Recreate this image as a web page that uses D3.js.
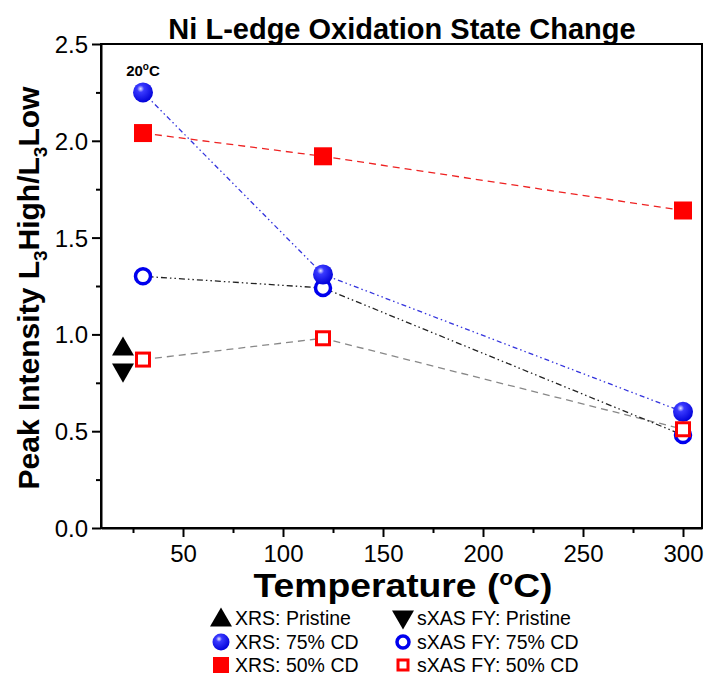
<!DOCTYPE html>
<html><head><meta charset="utf-8">
<script src="https://cdn.jsdelivr.net/npm/d3@7"></script>
<style>body{margin:0;background:#fff}svg{font-family:"Liberation Sans",Arial,sans-serif}</style>
</head><body><svg id="c" width="706" height="679"></svg>
<script>
const temps = [30, 120, 300];
const xrs75 = [2.25, 1.31, 0.60];
const sxas75 = [1.30, 1.24, 0.48];
const xrs50 = [2.04, 1.92, 1.64];
const sxas50 = [0.87, 0.98, 0.51];
const pristineT = 20;
const xrsPristine = 0.94;
const sxasPristine = 0.80;
const xTicks = [50, 100, 150, 200, 250, 300];
const yTicks = [0.0, 0.5, 1.0, 1.5, 2.0, 2.5];

const svg = d3.select("#c");
const L = 101, R = 702, T = 44, B = 528;
const x = d3.scaleLinear().domain([9, 309.5]).range([L, R]);
const y = d3.scaleLinear().domain([0, 2.5]).range([B, T]);

const defs = svg.append("defs");
const g = defs.append("radialGradient").attr("id","ball").attr("cx","0.38").attr("cy","0.32").attr("r","0.7");
g.append("stop").attr("offset","0").attr("stop-color","#e8e8ff");
g.append("stop").attr("offset","0.25").attr("stop-color","#3a3aff");
g.append("stop").attr("offset","1").attr("stop-color","#0000d8");

// frame
svg.append("rect").attr("x",L).attr("y",T).attr("width",R-L).attr("height",B-T)
  .attr("fill","none").attr("stroke","#000").attr("stroke-width",2);

// axes
const xAx = svg.append("g").attr("transform",`translate(0,${B})`)
  .call(d3.axisBottom(x).tickValues(xTicks).tickFormat(d3.format("d")).tickSize(9).tickSizeOuter(0));
svg.append("g").attr("transform",`translate(0,${B})`)
  .call(d3.axisBottom(x).tickValues([25,75,125,175,225,275]).tickFormat("").tickSize(5).tickSizeOuter(0))
  .select(".domain").remove();
const yAx = svg.append("g").attr("transform",`translate(${L},0)`)
  .call(d3.axisLeft(y).tickValues(yTicks).tickFormat(d3.format(".1f")).tickSize(9).tickSizeOuter(0));
svg.append("g").attr("transform",`translate(${L},0)`)
  .call(d3.axisLeft(y).tickValues([0.25,0.75,1.25,1.75,2.25]).tickFormat("").tickSize(5).tickSizeOuter(0))
  .select(".domain").remove();
svg.selectAll(".tick line").attr("stroke-width",2);
svg.selectAll(".domain").attr("stroke-width",2);
xAx.selectAll("text").attr("font-size",24).attr("font-family","Liberation Sans, Arial").attr("y",12).attr("dy","0.9em").attr("fill","#000");
yAx.selectAll("text").attr("font-size",24).attr("font-family","Liberation Sans, Arial").attr("dy","0.35em").attr("x",-13).attr("fill","#000");

// lines
function line(vals, color, dash, w){
  const ln = d3.line().x((d,i)=>x(temps[i])).y(d=>y(d));
  svg.append("path").attr("d", ln(vals)).attr("fill","none").attr("stroke",color)
    .attr("stroke-width",w||1.2).attr("stroke-dasharray",dash);
}
line(sxas50, "#888", "7,5", 1.3);
line(sxas75, "#222", "6,3,1.5,3,1.5,3", 1.3);
line(xrs50, "#ee2222", "7,5", 1.3);
line(xrs75, "#3333dd", "5,3,1.5,3,1.5,3", 1.3);

// markers
function sq(sel, cx, cy, s, open){
  if(open){
    sel.append("rect").attr("x",cx-s/2+1.5).attr("y",cy-s/2+1.5).attr("width",s-3).attr("height",s-3)
      .attr("fill","#fff").attr("stroke","#ff0000").attr("stroke-width",3);
  } else {
    sel.append("rect").attr("x",cx-s/2).attr("y",cy-s/2).attr("width",s).attr("height",s).attr("fill","#ff0000");
  }
}
function ball(sel,cx,cy,r){ sel.append("circle").attr("cx",cx).attr("cy",cy).attr("r",r).attr("fill","url(#ball)"); }
function ring(sel,cx,cy,r){ sel.append("circle").attr("cx",cx).attr("cy",cy).attr("r",r).attr("fill","#fff").attr("stroke","#0000ee").attr("stroke-width",3.5); }
function tri(sel,cx,cy,s,up){
  const h=s*0.87;
  const p = up ? [[cx,cy-h/2],[cx+s/2,cy+h/2],[cx-s/2,cy+h/2]] : [[cx,cy+h/2],[cx+s/2,cy-h/2],[cx-s/2,cy-h/2]];
  sel.append("path").attr("d","M"+p.join("L")+"Z").attr("fill","#000");
}
const m = svg.append("g");
sxas75.forEach((v,i)=>ring(m,x(temps[i]),y(v),7.5));
xrs75.forEach((v,i)=>ball(m,x(temps[i]),y(v),10));
xrs50.forEach((v,i)=>sq(m,x(temps[i]),y(v),18,false));
sxas50.forEach((v,i)=>sq(m,x(temps[i]),y(v),16,true));
tri(m,x(pristineT),y(xrsPristine),22,true);
tri(m,x(pristineT),y(sxasPristine),22,false);

// 20°C label
const lab = svg.append("text").attr("x",x(30)).attr("y",76).attr("text-anchor","middle")
  .attr("font-size",15).attr("font-weight","bold").attr("font-family","Liberation Sans, Arial");
lab.append("tspan").text("20");
lab.append("tspan").attr("font-size",10).attr("dy",-6).text("o");
lab.append("tspan").attr("dy",6).text("C");

// title
svg.append("text").attr("x",402).attr("y",39).attr("text-anchor","middle")
  .attr("font-size",29).attr("font-weight","bold").text("Ni L-edge Oxidation State Change");

// x title
const xt = svg.append("text").attr("transform","translate(403,597) scale(1.13,1)").attr("text-anchor","middle")
  .attr("font-size",33).attr("font-weight","bold");
xt.append("tspan").text("Temperature (");
xt.append("tspan").attr("font-size",20).attr("dy",-12).text("o");
xt.append("tspan").attr("dy",12).text("C)");

// y title
const yt = svg.append("text").attr("transform","translate(39,288) rotate(-90)").attr("text-anchor","middle")
  .attr("font-size",30).attr("font-weight","bold");
yt.append("tspan").text("Peak Intensity L");
yt.append("tspan").attr("font-size",19).attr("dy",8).text("3");
yt.append("tspan").attr("dy",-8).text("High/L");
yt.append("tspan").attr("font-size",19).attr("dy",8).text("3");
yt.append("tspan").attr("dy",-8).text("Low");

// legend
const legItems = [
  {c:0,r:0,t:"XRS: Pristine",k:"up"},
  {c:1,r:0,t:"sXAS FY: Pristine",k:"down"},
  {c:0,r:1,t:"XRS: 75% CD",k:"ball"},
  {c:1,r:1,t:"sXAS FY: 75% CD",k:"ring"},
  {c:0,r:2,t:"XRS: 50% CD",k:"sq"},
  {c:1,r:2,t:"sXAS FY: 50% CD",k:"osq"}
];
const lg = svg.append("g");
const colX=[221,403], rowY=[618,642,665];
legItems.forEach(d=>{
  const cx=colX[d.c], cy=rowY[d.r];
  if(d.k==="up") tri(lg,cx,cy-1,22,true);
  if(d.k==="down") tri(lg,cx,cy+2,22,false);
  if(d.k==="ball") ball(lg,cx,cy,8.5);
  if(d.k==="ring") ring(lg,cx,cy,6);
  if(d.k==="sq") sq(lg,cx,cy,16,false);
  if(d.k==="osq") sq(lg,cx,cy,13,true);
  lg.append("text").attr("x",cx+14).attr("y",cy+7).attr("font-size",19.5).text(d.t);
});
</script></body></html>
